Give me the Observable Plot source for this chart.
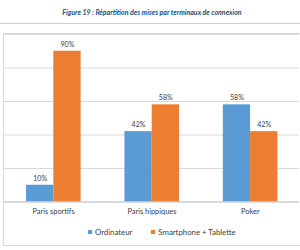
<!DOCTYPE html>
<html>
<head>
<meta charset="utf-8">
<script src="https://cdn.jsdelivr.net/npm/d3@7"></script>
<script src="https://cdn.jsdelivr.net/npm/@observablehq/plot@0.6"></script>
<style>
  html, body { margin: 0; padding: 0; width: 300px; height: 250px; overflow: hidden; background: #fff; font-family: Lato, "Open Sans", sans-serif; }
  #title { position: absolute; top: 8px; left: 2px; width: 300px; text-align: center; font: italic bold 7px Lato, sans-serif; color: #1f4e79; white-space: nowrap; }
  #rule { position: absolute; top: 23px; left: 0; width: 300px; border-top: 1px solid #cfcfcf; }
  #frame { position: absolute; left: 3px; top: 33px; width: 330px; height: 211px; border: 1px solid #d9d9d9; }
  #chart { position: absolute; left: 0; top: 33px; }
  #legend { position: absolute; left: 88px; top: 227px; font: 7.8px Lato, sans-serif; color: #404040; white-space: nowrap; display: flex; align-items: center; }
  #legend .sw { display: inline-block; width: 4px; height: 4px; margin-right: 3px; }
  #legend .item { display: flex; align-items: center; margin-right: 19px; }
</style>
</head>
<body>
<div id="title"></div>
<div id="rule"></div>
<div id="frame"></div>
<div id="chart"></div>
<div id="legend"></div>
<script>
const titleText = "Figure 19 : Répartition des mises par terminaux de connexion";
const categories = ["Paris sportifs", "Paris hippiques", "Poker"];
const series = ["Ordinateur", "Smartphone + Tablette"];
const ordinateur = [10, 42, 58];
const mobile = [90, 58, 42];
const colors = ["#5b9bd5", "#ed7d31"];

const data = [];
categories.forEach((c, i) => {
  data.push({cat: c, series: series[0], value: ordinateur[i]});
  data.push({cat: c, series: series[1], value: mobile[i]});
});

document.getElementById("title").textContent = titleText;

const chart = Plot.plot({
  width: 308,
  height: 193,
  marginTop: 1,
  marginBottom: 20,
  marginLeft: 3.25,
  marginRight: 0,
  style: {fontFamily: "Lato, sans-serif", overflow: "visible"},
  fx: {domain: categories, padding: 0, label: null, axis: null},
  x: {domain: series, paddingInner: 0, paddingOuter: 0.75, axis: null},
  y: {domain: [0, 100], axis: null},
  color: {domain: series, range: colors},
  marks: [
    Plot.gridY({ticks: 5, stroke: "#d9d9d9", strokeOpacity: 1}),
    Plot.barY(data, {fx: "cat", x: "series", y: "value", fill: "series"}),
    Plot.ruleY([0], {stroke: "#c8c8c8"}),
    Plot.text(data, {fx: "cat", x: "series", y: "value", text: d => d.value + "%", dy: -7, fontSize: 7.3, fill: "#404040"}),
    Plot.axisFx({anchor: "bottom", tickSize: 0, tickPadding: 7, fontSize: 7.6, color: "#404040", label: null})
  ]
});
document.getElementById("chart").appendChild(chart);

const legend = document.getElementById("legend");
series.forEach((s, i) => {
  const item = document.createElement("span");
  item.className = "item";
  const sw = document.createElement("span");
  sw.className = "sw";
  sw.style.background = colors[i];
  item.appendChild(sw);
  item.appendChild(document.createTextNode(s));
  legend.appendChild(item);
});
</script>
</body>
</html>
